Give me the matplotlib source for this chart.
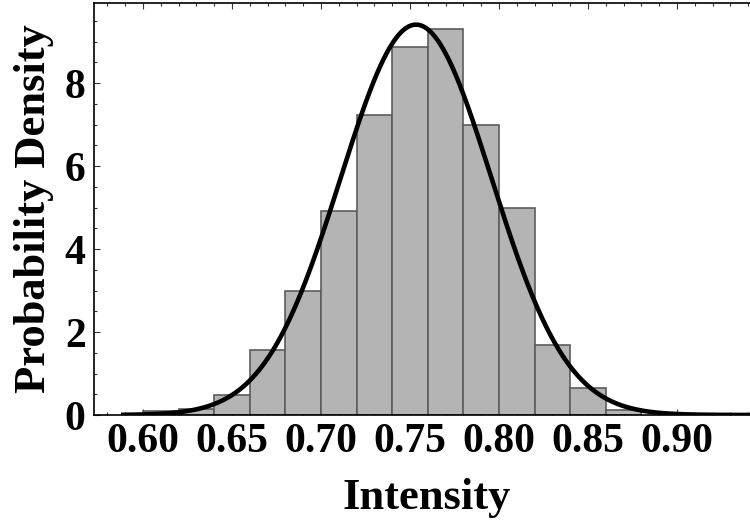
import numpy as np
import matplotlib
matplotlib.use("Agg")
import matplotlib.pyplot as plt
from matplotlib.ticker import MultipleLocator, FormatStrFormatter

# Histogram bins (left edges, width 0.02) and densities
bin_left = [0.60, 0.62, 0.64, 0.66, 0.68, 0.70, 0.72, 0.74, 0.76, 0.78, 0.80, 0.82, 0.84, 0.86]
density = [0.09, 0.15, 0.47, 1.57, 2.98, 4.92, 7.24, 8.87, 9.31, 6.98, 4.99, 1.68, 0.65, 0.11]
bin_width = 0.02

# Fitted normal distribution
fit_mu = 0.7534
fit_sigma = 0.0424
fit_range = (0.589, 0.96)

x_ticks = [0.60, 0.65, 0.70, 0.75, 0.80, 0.85, 0.90]
y_ticks = [0, 2, 4, 6, 8]

plt.rcParams["font.family"] = ["Liberation Serif", "DejaVu Serif"]
plt.rcParams["font.weight"] = "bold"

fig = plt.figure(figsize=(7.5, 5.21), dpi=100)
ax = fig.add_axes([94 / 750, 106 / 521, 666 / 750, 412 / 521])

ax.bar(bin_left, density, width=bin_width, align="edge",
       facecolor="#b4b4b4", edgecolor="#5c5c5c", linewidth=1.2, zorder=2)

xs = np.linspace(fit_range[0], fit_range[1], 600)
pdf = np.exp(-0.5 * ((xs - fit_mu) / fit_sigma) ** 2) / (fit_sigma * np.sqrt(2 * np.pi))
ax.plot(xs, pdf, color="black", linewidth=3.3, zorder=3)

ax.set_xlim(0.5725, 0.9466)
ax.set_ylim(0, 9.93)

ax.set_xticks(x_ticks)
ax.xaxis.set_major_formatter(FormatStrFormatter("%.2f"))
ax.xaxis.set_minor_locator(MultipleLocator(0.01))
ax.set_yticks(y_ticks)
ax.yaxis.set_minor_locator(MultipleLocator(0.5))

ax.tick_params(which="both", direction="in", top=True, right=False,
               labelsize=30, width=0.8, color="#333333")
ax.tick_params(which="major", length=4, pad=6)
ax.tick_params(which="minor", length=2.5)
for lab in ax.get_xticklabels() + ax.get_yticklabels():
    lab.set_fontweight("bold")

for side in ["left", "bottom", "top"]:
    ax.spines[side].set_linewidth(1.2)
ax.spines["right"].set_visible(False)

ax.set_xlabel("Intensity", fontsize=32, fontweight="bold", labelpad=12)
ax.set_ylabel("Probability Density", fontsize=32, fontweight="bold", labelpad=8)

fig.savefig("out.png", dpi=100)
